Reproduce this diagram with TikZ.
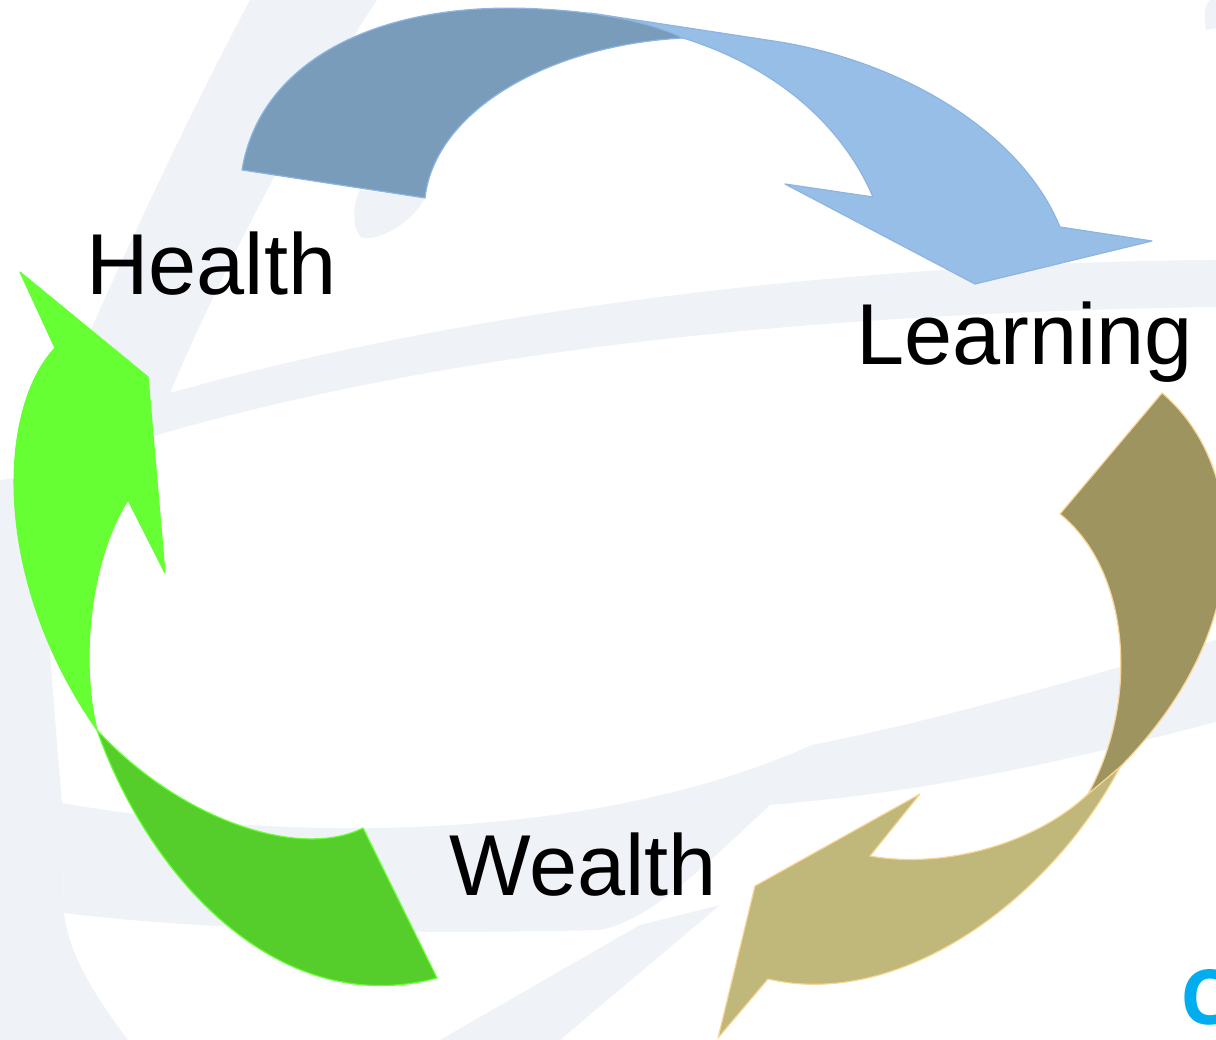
\documentclass[tikz,border=0pt]{standalone}
\usepackage{fontspec}
\setmainfont{Liberation Sans}
\newfontfamily\logofont{Open Sans}
\definecolor{bgband}{RGB}{239,242,247}
\definecolor{bluedarkc}{RGB}{121,156,186}
\definecolor{bluelightc}{RGB}{150,190,230}
\definecolor{blueline}{RGB}{141,180,226}
\definecolor{greenlightc}{RGB}{102,255,51}
\definecolor{greendarkc}{RGB}{85,206,43}
\definecolor{golddarkc}{RGB}{158,148,96}
\definecolor{goldlightc}{RGB}{192,183,122}
\definecolor{goldline}{RGB}{249,213,149}
\definecolor{logocyan}{RGB}{0,174,239}
\tikzset{
  bgfill/.style={fill=bgband},
  bluedark/.style={fill=bluedarkc, draw=blueline, line width=1.2pt, line join=round},
  bluelight/.style={fill=bluelightc, draw=blueline, line width=1.2pt, line join=round},
  greenlight/.style={fill=greenlightc, draw=greenlightc, line width=1.2pt, line join=round},
  greendark/.style={fill=greendarkc, draw=greenlightc, line width=1.2pt, line join=round},
  golddark/.style={fill=golddarkc, draw=goldline, line width=1.2pt, line join=round},
  goldlight/.style={fill=goldlightc, draw=goldline, line width=1.2pt, line join=round},
  lbl/.style={anchor=base west, inner sep=0pt, text=black, font=\fontsize{86.5pt}{100pt}\selectfont}
}
\begin{document}
\begin{tikzpicture}[x=1pt,y=-1pt]
\useasboundingbox (0,0) rectangle (1216,1040);
\clip (0,0) rectangle (1216,1040);
\fill[white] (0,0) rectangle (1216,1040);

% ---------- faint background swooshes ----------
\fill[bgfill] (250,0) -- (377,0) .. controls (330,70) and (230,250) .. (170,393)
  .. controls (500,300) and (900,262) .. (1216,260) -- (1216,307)
  .. controls (900,312) and (500,335) .. (150,437)
  .. controls (90,455) and (40,470) .. (0,485) -- (0,545)
  .. controls (70,370) and (160,170) .. (250,0) -- cycle;
\fill[bgfill] (0,480) -- (40,475) .. controls (45,600) and (55,720) .. (62,803)
  -- (64,913) .. controls (68,950) and (90,990) .. (128,1040) -- (0,1040) -- cycle;
\fill[bgfill] (62,803) .. controls (300,845) and (600,840) .. (812,745)
  .. controls (950,718) and (1100,672) .. (1216,640) -- (1216,722)
  .. controls (1100,752) and (950,790) .. (770,805)
  .. controls (700,870) and (650,920) .. (600,930)
  .. controls (400,935) and (200,930) .. (64,913) -- cycle;
\fill[bgfill] (440,1040) -- (640,925) -- (720,905) -- (560,1040) -- cycle;
\fill[bgfill] (360,190) -- (425,198) .. controls (410,225) and (380,240) .. (362,238)
  .. controls (352,230) and (352,205) .. (360,190) -- cycle;
\fill[bgfill] (1206,30) .. controls (1203,15) and (1205,5) .. (1210,0) -- (1216,0) -- (1216,28) -- cycle;

% ---------- green arrow (Wealth -> Health) ----------
\path[greendark] (97,730) .. controls (150,880) and (280,1020) .. (437,978)
  -- (363,828) .. controls (300,860) and (180,820) .. (97,730) -- cycle;
\path[greenlight] (97,730) .. controls (-8,580) and (-3,410) .. (55,348)
  -- (20,272) -- (148,377) -- (165,573) -- (128,500)
  .. controls (90,560) and (80,660) .. (97,730) -- cycle;

% ---------- blue arrow (Health -> Learning) ----------
\path[bluelight] (590,13) -- (780,42) .. controls (900,62) and (1020,130) .. (1060,227)
  -- (1152,241) -- (975,284) -- (785,184) -- (873,197)
  .. controls (840,120) and (770,65) .. (683,38) -- cycle;
\path[bluedark] (242,170) .. controls (260,60) and (380,0) .. (540,9)
  .. controls (600,12) and (650,22) .. (683,38)
  .. controls (550,45) and (435,110) .. (425,198) -- cycle;

% ---------- gold arrow (Learning -> Wealth) ----------
\path[goldlight] (1120,767) .. controls (1050,900) and (900,1010) .. (768,979)
  -- (718,1038) -- (755,886) -- (920,794) -- (870,856)
  .. controls (950,870) and (1040,840) .. (1088,794) -- cycle;
\path[golddark] (1162,393) .. controls (1242,460) and (1265,620) .. (1120,767)
  -- (1088,794) .. controls (1140,700) and (1130,570) .. (1060,514) -- cycle;

% ---------- labels ----------
\node[lbl] (health) at (86,295) {Health};
\node[lbl] (learning) at (856,365) {Learning};
\node[lbl] (wealth) at (449,895) {Wealth};
\node[anchor=base west, inner sep=0pt, text=logocyan, font=\logofont\bfseries\fontsize{76pt}{80pt}\selectfont] (logo) at (1180,1024) {C};
\end{tikzpicture}
\end{document}
